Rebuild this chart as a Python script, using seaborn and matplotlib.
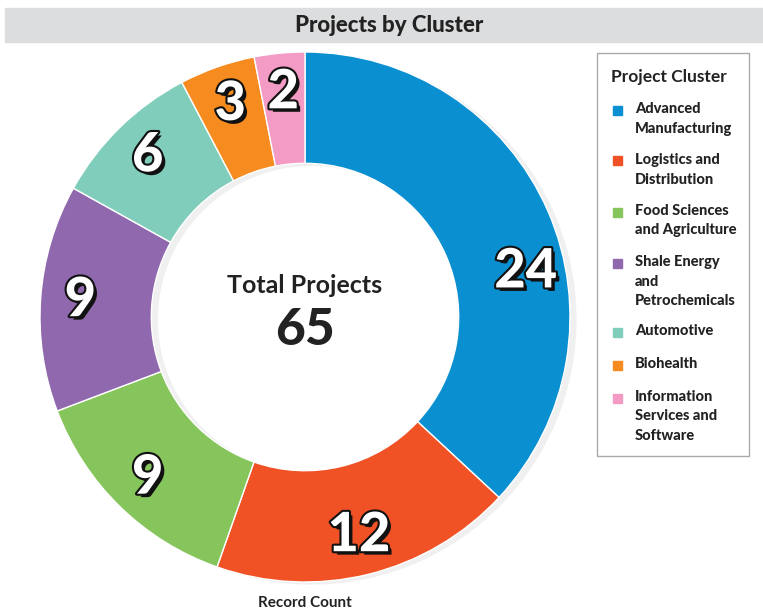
import matplotlib

matplotlib.use("Agg")
import matplotlib.pyplot as plt
import matplotlib.patheffects as pe
from matplotlib.patches import Rectangle
import numpy as np
import seaborn as sns

clusters = [
    "Advanced\nManufacturing",
    "Logistics and\nDistribution",
    "Food Sciences\nand Agriculture",
    "Shale Energy\nand\nPetrochemicals",
    "Automotive",
    "Biohealth",
    "Information\nServices and\nSoftware",
]
counts = [24, 12, 9, 9, 6, 3, 2]
palette = ["#0A8FD0", "#F05226", "#86C55B", "#8F68AD", "#7FCDBA", "#F68B20", "#F39AC5"]
title = "Projects by Cluster"
legend_title = "Project Cluster"
center_label = "Total Projects"
footer = "Record Count"

sns.set_style("white")
plt.rcParams["font.family"] = ["Lato", "DejaVu Sans"]

W, H = 763, 612
fig = plt.figure(figsize=(W / 100, H / 100), dpi=100)


def fx(px):
    return px / W


def fy(py):
    return 1 - py / H


# grey title band
fig.patches.append(Rectangle((fx(5), fy(42)), 1 - fx(5), 34 / H,
                             transform=fig.transFigure, color="#DCDDDE", zorder=0))
fig.text(fx(389), fy(25), title, ha="center", va="center",
         fontsize=16, fontweight="black", color="#222222")

cx, cy, r = 305, 317, 265
ax = fig.add_axes([(cx - r) / W, (H - cy - r) / H, 2 * r / W, 2 * r / H])

# faint shadow behind the ring
ax.pie(counts, radius=1.0, startangle=90, counterclock=False,
       colors=["#000000"] * len(counts),
       wedgeprops=dict(width=0.42, alpha=0.06, linewidth=0),
       center=(0.025, -0.01))
wedges, _ = ax.pie(counts, radius=1.0, startangle=90, counterclock=False,
                   colors=palette,
                   wedgeprops=dict(width=0.42, edgecolor="white", linewidth=1))
ax.set_xlim(-1, 1)
ax.set_ylim(-1, 1)
ax.axis("off")

effects = [
    pe.withSimplePatchShadow(offset=(2.5, -2.5), shadow_rgbFace="#111111", alpha=1.0),
    pe.withStroke(linewidth=3, foreground="#111111"),
]
# the big slice's label sits a bit below its mid-angle in the original
angle_nudge = {0: -12}
total = sum(counts)
for i, (w, v) in enumerate(zip(wedges, counts)):
    mid = np.deg2rad((w.theta1 + w.theta2) / 2 + angle_nudge.get(i, 0))
    rr = 0.85
    ax.text(rr * np.cos(mid), rr * np.sin(mid), str(v), ha="center", va="center",
            fontsize=39, fontweight="black", color="white", path_effects=effects)

ax.text(0, 0.12, center_label, ha="center", va="center", fontsize=18,
        fontweight="bold", color="#222222")
ax.text(0, -0.05, str(total), ha="center", va="center", fontsize=37,
        fontweight="black", color="#222222")

fig.text(fx(305), fy(603), footer, ha="center", va="center",
         fontsize=11, fontweight="bold", color="#222222")

# legend box drawn by hand so multi-line labels sit next to the swatch top
fig.patches.append(Rectangle((fx(597), fy(456)), fx(749) - fx(597), (456 - 53) / H,
                             transform=fig.transFigure, facecolor="white",
                             edgecolor="#AAAAAA", linewidth=1, zorder=1))
fig.text(fx(611), fy(77), legend_title, ha="left", va="center",
         fontsize=12.5, fontweight="bold", color="#222222", zorder=2)
y = 110
for lab, col in zip(clusters, palette):
    fig.patches.append(Rectangle((fx(613), fy(y + 4.5)), 9 / W, 9 / H,
                                 transform=fig.transFigure, color=col, zorder=2))
    fig.text(fx(635), fy(y - 8), lab, ha="left", va="top", fontsize=10.5,
             fontweight="black", color="#222222", linespacing=1.5, zorder=2)
    y += lab.count("\n") * 18 + 18 + 15

fig.savefig("out.png", dpi=100)
